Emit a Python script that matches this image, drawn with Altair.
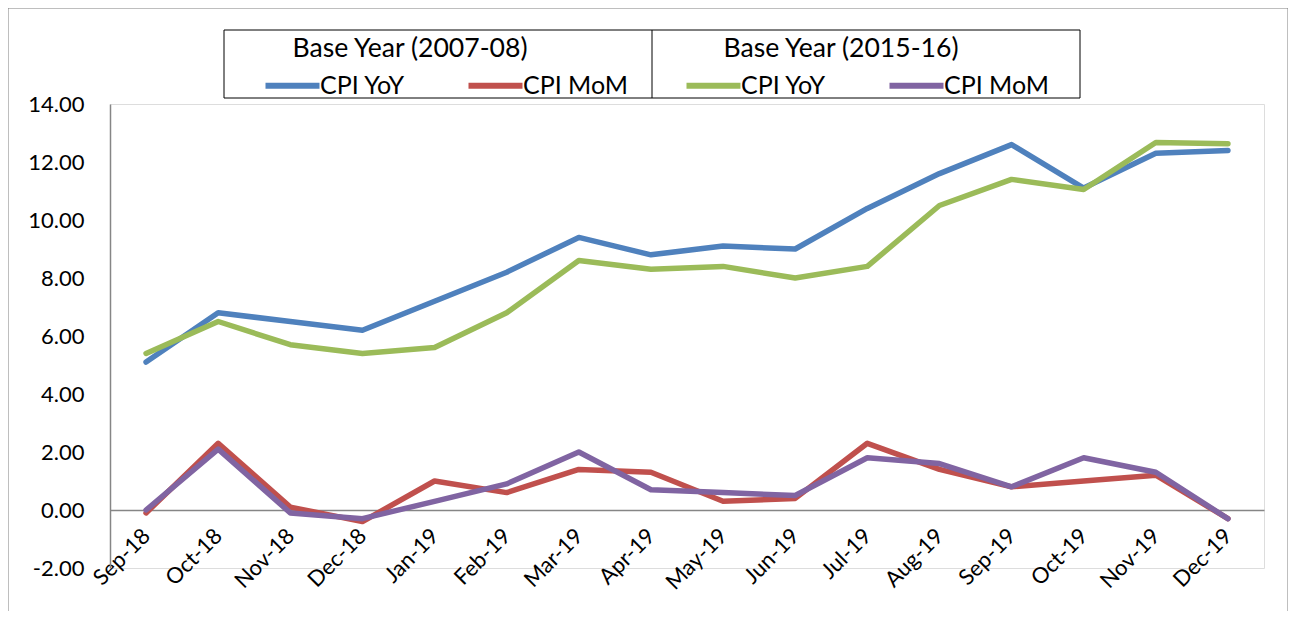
import altair as alt
import pandas as pd

months = ["Sep-18", "Oct-18", "Nov-18", "Dec-18", "Jan-19", "Feb-19", "Mar-19", "Apr-19",
          "May-19", "Jun-19", "Jul-19", "Aug-19", "Sep-19", "Oct-19", "Nov-19", "Dec-19"]
old_yoy = [5.1, 6.8, 6.5, 6.2, 7.2, 8.2, 9.4, 8.8, 9.1, 9.0, 10.4, 11.6, 12.6, 11.1, 12.3, 12.4]
old_mom = [-0.1, 2.3, 0.1, -0.4, 1.0, 0.6, 1.4, 1.3, 0.3, 0.4, 2.3, 1.4, 0.8, 1.0, 1.2, -0.3]
new_yoy = [5.4, 6.5, 5.7, 5.4, 5.6, 6.8, 8.6, 8.3, 8.4, 8.0, 8.4, 10.5, 11.4, 11.05, 12.67, 12.63]
new_mom = [0.0, 2.1, -0.1, -0.3, 0.3, 0.9, 2.0, 0.7, 0.6, 0.5, 1.8, 1.6, 0.8, 1.8, 1.3, -0.3]

series_names = ["CPI YoY", "CPI MoM"]
group_titles = ["Base Year (2007-08)", "Base Year (2015-16)"]
old_colors = ["#4F81BD", "#C0504D"]
new_colors = ["#9BBB59", "#8064A2"]

def frame(yoy, mom):
    rows = []
    for name, vals in zip(series_names, [yoy, mom]):
        for m, v in zip(months, vals):
            rows.append({"month": m, "value": v, "series": name})
    return pd.DataFrame(rows)

df_old = frame(old_yoy, old_mom)
df_new = frame(new_yoy, new_mom)

FONT = "Lato"

x_enc = alt.X("month:N", sort=months, title=None,
              axis=alt.Axis(labelAngle=315, labelAlign="right", labelBaseline="middle",
                            labelPadding=22, ticks=False, domain=True, domainColor="#868686",
                            domainWidth=1.5, offset=-58, labelFontSize=22, labelColor="#000000",
                            labelFont=FONT))
y_enc = alt.Y("value:Q", title=None,
              scale=alt.Scale(domain=[-2, 14], nice=False, zero=False),
              axis=alt.Axis(values=[-2, 0, 2, 4, 6, 8, 10, 12, 14], grid=False, ticks=False,
                            domainColor="#868686", domainWidth=1.5, labelPadding=26,
                            labelFontSize=22, labelColor="#000000", labelFont=FONT,
                            labelExpr="replace(format(datum.value, '.2f'), '\u2212', '-')"))

def legend(lx):
    return alt.Legend(title=None, orient="none", legendX=lx, legendY=-35, direction="horizontal",
                      symbolType="M-2,0H2", symbolStrokeWidth=6, symbolSize=729,
                      labelFontSize=25, labelFont=FONT, labelColor="#000000", labelOffset=11,
                      padding=0, columnPadding=31, gridAlign="all")

line_old = alt.Chart(df_old).mark_line(strokeWidth=5.5, strokeCap="round", strokeJoin="round").encode(
    x=x_enc, y=y_enc,
    color=alt.Color("series:N", scale=alt.Scale(domain=series_names, range=old_colors),
                    legend=legend(166)),
    detail="series:N",
)
line_new = alt.Chart(df_new).mark_line(strokeWidth=5.5, strokeCap="round", strokeJoin="round").encode(
    x=x_enc, y=y_enc,
    color=alt.Color("series:N", scale=alt.Scale(domain=series_names, range=new_colors),
                    legend=legend(587)),
    detail="series:N",
)

one = pd.DataFrame({"k": [0]})
border = alt.Chart(one).mark_rect(fill=None, stroke="#7f7f7f", strokeWidth=1, clip=False).encode(
    x=alt.value(-102), x2=alt.value(1178), y=alt.value(-96), y2=alt.value(540)
)
legend_box = alt.Chart(one).mark_rect(fill="#ffffff", stroke="#000000", strokeWidth=1, clip=False).encode(
    x=alt.value(114), x2=alt.value(970), y=alt.value(-74), y2=alt.value(-6)
)
legend_div = alt.Chart(one).mark_rule(stroke="#000000", strokeWidth=1, clip=False).encode(
    x=alt.value(542), y=alt.value(-74), y2=alt.value(-6)
)
title_old = alt.Chart(one).mark_text(text=group_titles[0], font=FONT, fontSize=26.6, color="#000000",
                                     align="center", baseline="middle", clip=False).encode(
    x=alt.value(300), y=alt.value(-55)
)
title_new = alt.Chart(one).mark_text(text=group_titles[1], font=FONT, fontSize=26.6, color="#000000",
                                     align="center", baseline="middle", clip=False).encode(
    x=alt.value(731), y=alt.value(-55)
)

chart = alt.layer(border, legend_box, legend_div, title_old, title_new, line_old, line_new).resolve_scale(
    color="independent"
).properties(
    width=1154, height=464,
    autosize=alt.AutoSizeParams(type="none"),
    padding={"left": 102, "top": 96, "right": 24, "bottom": 43},
).configure_view(stroke=None).configure(background="#ffffff")

chart.save("out.html", embed_options={"renderer": "svg", "actions": False})
